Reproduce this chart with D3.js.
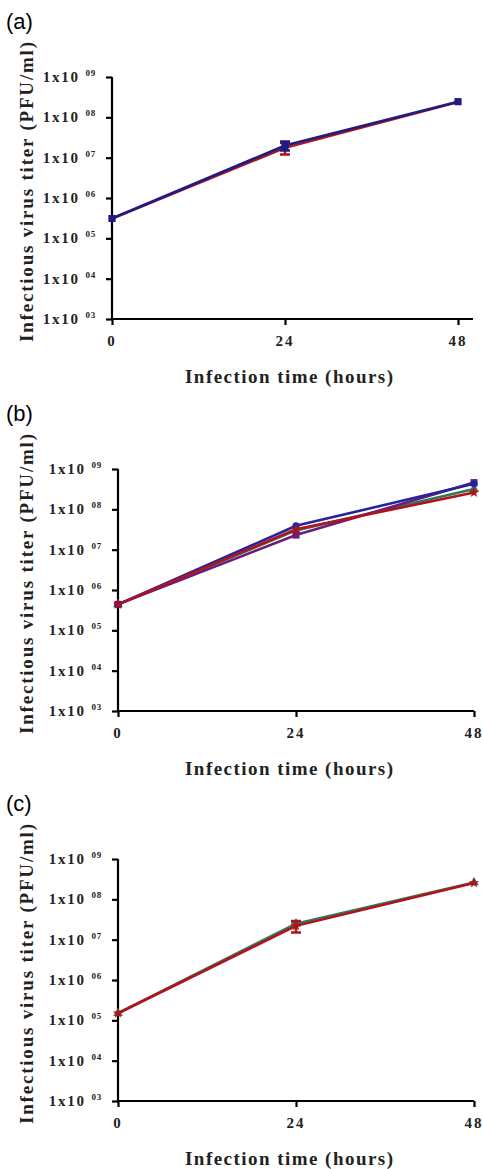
<!DOCTYPE html>
<html>
<head>
<meta charset="utf-8">
<script src="https://cdn.jsdelivr.net/npm/d3@7"></script>
<style>
  body { margin: 0; background: #fff; }
  svg { display: block; }
  .serif { font-family: "Liberation Serif", "Times New Roman", serif; font-weight: bold; }
</style>
</head>
<body>
<div id="chart"></div>
<script>
// x categories and y tick exponents
const hours = [0, 24, 48];
const yExponents = [3, 4, 5, 6, 7, 8, 9];
const yTickSup = ["03", "04", "05", "06", "07", "08", "09"];
const panelLabels = ["(a)", "(b)", "(c)"];

// panel (a)
const aRed = [3.1e5, 1.75e7, 2.4e8];
const aRedErr = [0, 0.55e7, 0];
const aBlue = [3.1e5, 2.0e7, 2.45e8];
const aBlueErr = [0, 0.5e7, 0];

// panel (b)
const bGreen = [4.4e5, 3.0e7, 3.2e8];
const bPurple = [4.4e5, 2.3e7, 4.6e8];
const bBlue = [4.4e5, 3.9e7, 4.3e8];
const bRed = [4.4e5, 3.2e7, 2.6e8];

// panel (c)
const cGreen = [1.5e5, 2.5e7, 2.6e8];
const cGreenErr = [0, 0.2e7, 0];
const cRed = [1.5e5, 2.2e7, 2.55e8];
const cRedErr = [0, 0.7e7, 0];

const panels = [
  { label: panelLabels[0], top: 77, x0: 112, x1: 458, axisEnd: 473, series: [
    { v: aRed, err: aRedErr, color: "#b3121b", sym: d3.symbolSquare, size: 40 },
    { v: aBlue, err: aBlueErr, color: "#1c1c86", sym: d3.symbolSquare, size: 50 }
  ]},
  { label: panelLabels[1], top: 469, x0: 118, x1: 474, axisEnd: 474, series: [
    { v: bGreen, err: null, color: "#2e7a58", sym: d3.symbolTriangle, size: 40 },
    { v: bPurple, err: null, color: "#6b1d7c", sym: d3.symbolSquare, size: 50 },
    { v: bBlue, err: null, color: "#24249c", sym: d3.symbolCircle, size: 40 },
    { v: bRed, err: null, color: "#b3121b", sym: d3.symbolStar, size: 35 }
  ]},
  { label: panelLabels[2], top: 859, x0: 118, x1: 474, axisEnd: 474, series: [
    { v: cGreen, err: cGreenErr, color: "#2e7a58", sym: d3.symbolTriangle, size: 40 },
    { v: cRed, err: cRedErr, color: "#b3121b", sym: d3.symbolStar, size: 35 }
  ]}
];

const width = 483, height = 1169, plotH = 242;

const svg = d3.select("#chart").append("svg")
  .attr("width", width)
  .attr("height", height);

panels.forEach(p => {
  const g = svg.append("g").attr("transform", `translate(0,${p.top})`);

  const x = d3.scaleLinear().domain([0, 48]).range([p.x0, p.x1]);
  const y = d3.scaleLog().domain([1e3, 1e9]).range([plotH, 0]);

  // panel letter
  g.append("text")
    .attr("x", 6).attr("y", -48)
    .style("font-family", "'Liberation Sans', Arial, sans-serif")
    .style("font-size", "22px")
    .text(p.label);

  // y axis
  const yAxis = d3.axisLeft(y)
    .tickValues(yExponents.map(e => Math.pow(10, e)))
    .tickSize(6)
    .tickFormat("");
  const ya = g.append("g").attr("transform", `translate(${p.x0},0)`).call(yAxis);
  ya.select(".domain").attr("d", `M0,0V${plotH}`);

  // x axis
  const xAxis = d3.axisBottom(x).tickValues(hours).tickSize(6).tickFormat("");
  const xa = g.append("g").attr("transform", `translate(0,${plotH})`).call(xAxis);
  xa.select(".domain").attr("d", `M${p.x0},0H${p.axisEnd}`);

  g.selectAll(".domain, .tick line")
    .attr("stroke", "#000").attr("stroke-width", 2.2);

  // y tick labels 1x10^nn
  yExponents.forEach((e, i) => {
    const t = g.append("text")
      .attr("class", "serif")
      .attr("x", p.x0 - 16)
      .attr("y", y(Math.pow(10, e)) + 5)
      .attr("text-anchor", "end")
      .style("font-size", "15px")
      .style("letter-spacing", "1.8px")
      .attr("fill", "#222");
    t.append("tspan").text("1x10 ");
    t.append("tspan")
      .attr("dy", -6)
      .style("font-size", "9px")
      .style("letter-spacing", "0.8px")
      .text(yTickSup[i]);
  });

  // x tick labels
  g.selectAll(".xlab").data(hours).enter().append("text")
    .attr("class", "serif")
    .attr("x", d => x(d))
    .attr("y", plotH + 27)
    .attr("text-anchor", "middle")
    .style("font-size", "15px")
    .style("letter-spacing", "2px")
    .attr("fill", "#222")
    .text(d => d);

  // axis titles
  g.append("text")
    .attr("class", "serif")
    .attr("x", 289)
    .attr("y", plotH + 64)
    .attr("text-anchor", "middle")
    .attr("textLength", 208)
    .attr("lengthAdjust", "spacing")
    .style("font-size", "19px")
    .attr("fill", "#222")
    .text("Infection time (hours)");

  g.append("text")
    .attr("class", "serif")
    .attr("transform", `translate(33,${plotH / 2 - 6}) rotate(-90)`)
    .attr("text-anchor", "middle")
    .attr("textLength", 300)
    .attr("lengthAdjust", "spacing")
    .style("font-size", "19px")
    .attr("fill", "#222")
    .text("Infectious virus titer (PFU/ml)");

  // series
  const line = d3.line().x((d, i) => x(hours[i])).y(d => y(d));
  p.series.forEach(s => {
    g.append("path")
      .datum(s.v)
      .attr("d", line)
      .attr("fill", "none")
      .attr("stroke", s.color)
      .attr("stroke-width", 2.6);

    if (s.err) {
      s.v.forEach((d, i) => {
        if (!s.err[i]) return;
        const cx = x(hours[i]);
        const yl = y(d - s.err[i]), yh = y(d + s.err[i]);
        g.append("path")
          .attr("d", `M${cx},${yl}V${yh}M${cx - 5},${yl}H${cx + 5}M${cx - 5},${yh}H${cx + 5}`)
          .attr("stroke", s.color)
          .attr("stroke-width", 2.5)
          .attr("fill", "none");
      });
    }

    g.selectAll(null).data(s.v).enter().append("path")
      .attr("transform", (d, i) => `translate(${x(hours[i])},${y(d)})`)
      .attr("d", d3.symbol().type(s.sym).size(s.size))
      .attr("fill", s.color);
  });
});
</script>
</body>
</html>
